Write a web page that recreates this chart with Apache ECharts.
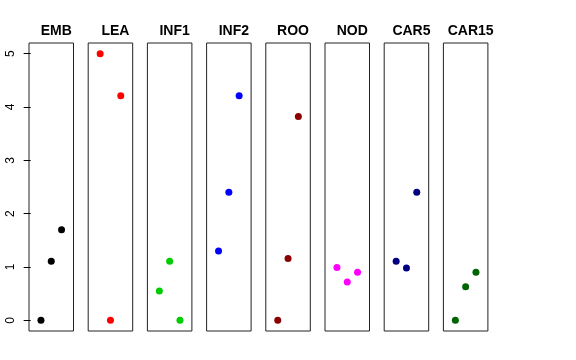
<!DOCTYPE html>
<html><head><meta charset="utf-8">
<script src="https://cdn.jsdelivr.net/npm/echarts@6/dist/echarts.min.js"></script>
<style>html,body{margin:0;padding:0;background:#fff}#c{width:576px;height:360px}</style>
</head><body><div id="c"></div>
<script>
const panels = ["EMB","LEA","INF1","INF2","ROO","NOD","CAR5","CAR15"];
const colors = ["#000000","#FF0000","#00CD00","#0000FF","#8B0000","#FF00FF","#000080","#006400"];
const xPos = [1,2,3];
const EMB = [0, 1.11, 1.70];
const LEA = [5.0, 0, 4.21];
const INF1 = [0.55, 1.11, 0];
const INF2 = [1.30, 2.40, 4.21];
const ROO = [0, 1.16, 3.82];
const NOD = [0.99, 0.72, 0.90];
const CAR5 = [1.11, 0.98, 2.40];
const CAR15 = [0, 0.63, 0.90];
const yTicks = [0,1,2,3,4,5];
const values = [EMB, LEA, INF1, INF2, ROO, NOD, CAR5, CAR15];

(function(){
const grids=[], xAxes=[], yAxes=[], series=[], titles=[];
const left0=29, step=59.2, w=44.5, gTop=43, gH=288;
panels.forEach((p,i)=>{
  const l = left0+step*i;
  grids.push({left:l, top:gTop, width:w, height:gH, show:true, borderColor:'#222', borderWidth:1, backgroundColor:'transparent'});
  xAxes.push({type:'value', gridIndex:i, min:-0.16, max:4.16, show:false});
  yAxes.push({type:'value', gridIndex:i, min:-0.2, max:5.2, show:i===0,
    axisLine:{show:false}, splitLine:{show:false},
    axisTick:{show:true, length:7, customValues:yTicks, lineStyle:{color:'#000'}},
    axisLabel:{show:true, customValues:yTicks, rotate:90, margin:12, fontSize:12, color:'#000', fontFamily:'Liberation Sans, Arial, sans-serif',
      formatter:v=>String(Math.round(v))}
  });
  series.push({type:'scatter', xAxisIndex:i, yAxisIndex:i, symbol:'circle', symbolSize:7,
    itemStyle:{color:colors[i], opacity:1}, data:xPos.map((x,j)=>[x, values[i][j]]), silent:true});
  titles.push({text:p, left:l+w/2, top:19, textAlign:'center',
    textStyle:{fontSize:14, fontWeight:'bold', color:'#000', fontFamily:'Liberation Sans, Arial, sans-serif'}});
});
const chart = echarts.init(document.getElementById('c'), null, {renderer:'canvas'});
chart.setOption({animation:false, title:titles, grid:grids, xAxis:xAxes, yAxis:yAxes, series:series});
})();
</script></body></html>
